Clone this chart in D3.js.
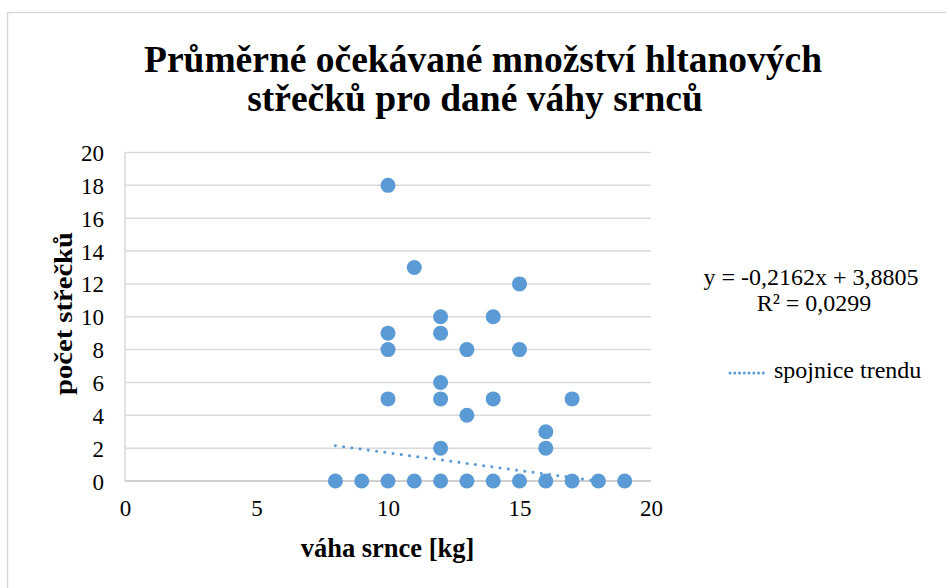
<!DOCTYPE html>
<html><head><meta charset="utf-8">
<script src="https://cdn.jsdelivr.net/npm/d3@7"></script>
<style>
html,body{margin:0;padding:0;background:#fff;}
</style></head>
<body>
<svg id="c" width="946" height="588"></svg>
<script>
// Data
const weights = [8, 9, 10,10,10,10,10, 11,11, 12,12,12,12,12,12, 13,13,13, 14,14,14, 15,15,15, 16,16,16, 17,17, 18, 19];
const counts  = [0, 0, 0,5,8,9,18, 0,13, 0,2,5,6,9,10, 0,4,8, 0,5,10, 0,8,12, 0,2,3, 0,5, 0, 0];
const xTicks = [0, 5, 10, 15, 20];
const yTicks = [0, 2, 4, 6, 8, 10, 12, 14, 16, 18, 20];
const trendSlope = -0.2162, trendIntercept = 3.8805;
const titleLines = ["Průměrné očekávané množství hltanových", "střečků pro dané váhy srnců"];
const xLabel = "váha srnce [kg]";
const yLabel = "počet střečků";
const eqLines = ["y = -0,2162x + 3,8805", "R² = 0,0299"];
const legendLabel = "spojnice trendu";

const FONT = "'Liberation Serif', 'Times New Roman', serif";
const svg = d3.select("#c").attr("font-family", FONT);
const blue = "#5b9bd5";

function txt(s, size, bold, px, py, anchor, extra) {
  return svg.append("text").attr("font-family", FONT).attr("font-size", size)
    .attr("font-weight", bold ? "bold" : "normal").attr("fill", "#000")
    .attr("text-anchor", anchor || "start")
    .attr("transform", `translate(${px},${py})` + (extra || ""))
    .text(s);
}

// outer border
svg.append("rect").attr("x",7.5).attr("y",12.5).attr("width",950).attr("height",600)
  .attr("fill","#fff").attr("stroke","#d9d9d9").attr("stroke-width",1.5);

const x = d3.scaleLinear().domain([0,20]).range([125,651]);
const y = d3.scaleLinear().domain([0,20]).range([481,152.5]);

// gridlines
svg.append("g").selectAll("line").data(yTicks.filter(d=>d>0)).join("line")
  .attr("x1",x(0)).attr("x2",x(20)).attr("y1",d=>y(d)).attr("y2",d=>y(d))
  .attr("stroke","#d9d9d9").attr("stroke-width",1.5);
svg.append("line").attr("x1",x(0)).attr("x2",x(0)).attr("y1",y(20)).attr("y2",y(0))
  .attr("stroke","#d9d9d9").attr("stroke-width",1.5);
svg.append("line").attr("x1",x(0)).attr("x2",x(20)).attr("y1",y(0)).attr("y2",y(0))
  .attr("stroke","#bfbfbf").attr("stroke-width",1.5);

// axes (labels only)
const gy = svg.append("g").attr("transform",`translate(${x(0)},0)`)
  .call(d3.axisLeft(y).tickValues(yTicks).tickSize(0).tickPadding(21));
gy.attr("font-family", FONT).attr("font-size", 23);
gy.select(".domain").remove();
gy.selectAll("text").attr("fill","#000").attr("dy",null).attr("y",null)
  .attr("transform","translate(0,8)");

const gx = svg.append("g").attr("transform",`translate(0,${y(0)})`)
  .call(d3.axisBottom(x).tickValues(xTicks).tickSize(0).tickPadding(10));
gx.attr("font-family", FONT).attr("font-size", 23);
gx.select(".domain").remove();
gx.selectAll("text").attr("fill","#000").attr("dy",null).attr("y",null)
  .attr("transform","translate(0,35)");

// trend line
const tx0 = d3.min(weights), tx1 = Math.min(d3.max(weights), -trendIntercept/trendSlope);
svg.append("line")
  .attr("x1",x(tx0)).attr("y1",y(trendSlope*tx0+trendIntercept))
  .attr("x2",x(tx1)).attr("y2",y(trendSlope*tx1+trendIntercept))
  .attr("stroke",blue).attr("stroke-width",3).attr("stroke-linecap","round")
  .attr("stroke-dasharray","0.01 8.3");

// points
svg.append("g").selectAll("circle").data(weights.map((w,i)=>[w,counts[i]])).join("circle")
  .attr("cx",d=>x(d[0])).attr("cy",d=>y(d[1])).attr("r",7.5).attr("fill",blue);

// title
txt(titleLines[0], 37.5, true, 483, 72, "middle");
txt(titleLines[1], 37.5, true, 475, 111, "middle");

// axis titles
txt(xLabel, 26.5, true, 387.5, 557, "middle");
txt(yLabel, 26, true, 72, 313.5, "middle", " scale(1,1.1) rotate(-90)");

// equation
txt(eqLines[0], 24, false, 811, 285, "middle");
txt(eqLines[1], 24, false, 814, 311, "middle");

// legend
svg.append("line").attr("x1",730).attr("x2",768).attr("y1",373).attr("y2",373)
  .attr("stroke",blue).attr("stroke-width",3).attr("stroke-linecap","round")
  .attr("stroke-dasharray","0.01 4.75");
txt(legendLabel, 24, false, 774, 378, "start");
</script>
</body></html>
